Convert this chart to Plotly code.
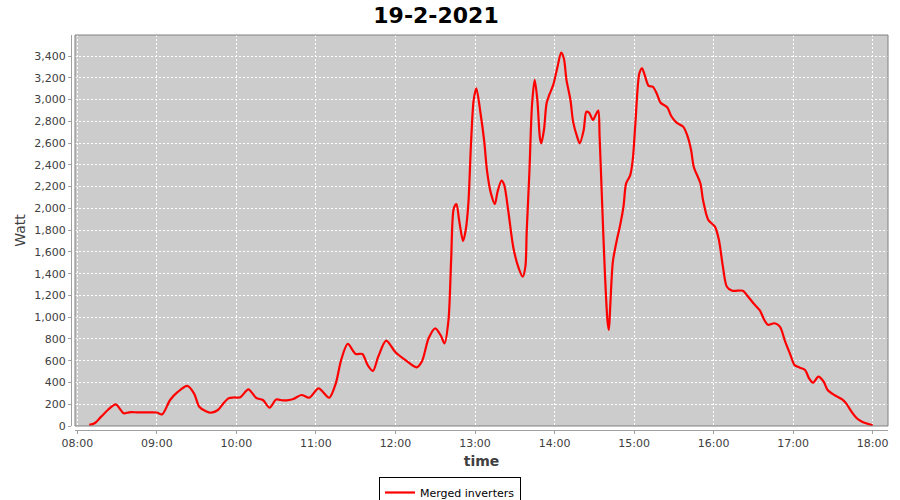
import plotly.graph_objects as go

day = "2021-02-19"
times = ["08:09","08:13","08:18","08:23","08:29","08:35","08:39","08:45","08:50","08:55",
         "09:00","09:04","09:10","09:16","09:23","09:28","09:32","09:37","09:41","09:46",
         "09:50","09:54","09:58","10:03","10:09","10:15","10:20","10:25","10:30","10:35",
         "10:38","10:43","10:49","10:55","11:02","11:10","11:15","11:19","11:24","11:30",
         "11:35","11:39","11:43","11:47","11:53","12:00","12:07","12:16","12:20","12:25",
         "12:30","12:34","12:37","12:40","12:42","12:44","12:46","12:48","12:51","12:53",
         "12:55","12:57","12:59","13:01","13:04","13:07","13:09","13:12","13:15","13:17",
         "13:20","13:22","13:25","13:29","13:33","13:36","13:38","13:39","13:41","13:43",
         "13:45","13:47","13:49","13:50","13:52","13:54","13:56","13:59","14:02","14:05",
         "14:07","14:09","14:12","14:14","14:17","14:19","14:22","14:24","14:26","14:29",
         "14:31","14:33","14:34","14:36","14:38","14:40","14:41","14:42","14:44","14:47",
         "14:49","14:52","14:54","14:57","14:59","15:01","15:04","15:06","15:08","15:11",
         "15:14","15:17","15:20","15:25","15:28","15:32","15:37","15:40","15:43","15:45",
         "15:50","15:52","15:56","16:01","16:04","16:07","16:10","16:14","16:22","16:25",
         "16:30","16:35","16:38","16:41","16:46","16:50","16:54","16:58","17:01","17:05",
         "17:09","17:12","17:15","17:19","17:23","17:26","17:31","17:37","17:40","17:44",
         "17:48","17:52","17:55","18:00"]
watts = [10,25,86,147,199,117,126,126,126,126,
         124,107,239,315,368,300,177,135,122,147,
         205,254,262,264,337,257,239,168,243,235,
         236,248,285,260,346,260,392,606,754,662,
         662,561,506,637,784,677,610,539,595,806,
         898,836,760,974,1526,2000,2040,1893,1700,1801,
         2047,2600,2996,3103,2888,2612,2352,2138,2040,2153,
         2254,2215,1985,1633,1449,1372,1464,1786,2322,2950,
         3180,3000,2644,2598,2720,2966,3042,3134,3287,3431,
         3379,3180,2996,2797,2659,2598,2720,2888,2879,2812,
         2858,2898,2659,2015,1403,959,882,1097,1510,1709,
         1817,2015,2230,2300,2445,2782,3241,3287,3226,3125,
         3118,3058,2971,2929,2849,2788,2751,2675,2537,2383,
         2230,2077,1893,1832,1709,1464,1280,1243,1243,1204,
         1128,1060,980,930,944,913,775,652,561,536,
         515,438,398,453,407,331,285,245,208,132,
         71,40,25,6]

x_vals = [f"{day} {t}" for t in times]

W, H = 900, 500
ml, mr, mt, mb = 71, 12, 35, 70
pw, ph = W - ml - mr, H - mt - mb
off = 4

fig = go.Figure()
fig.add_trace(go.Scatter(
    x=x_vals, y=watts, mode="lines", name="Merged inverters",
    line=dict(color="#ff0000", width=2.2, shape="spline", smoothing=0.8),
))

font = "DejaVu Sans"
fig.update_layout(
    width=W, height=H,
    margin=dict(l=ml, r=mr, t=mt, b=mb, pad=0, autoexpand=False),
    paper_bgcolor="white", plot_bgcolor="#cccccc",
    font=dict(family=font, size=11, color="#444444"),
    title=dict(text="<b>19-2-2021</b>", x=436 / W, xref="container", xanchor="center",
               y=1 - 15 / H, yref="container", yanchor="middle", automargin=False,
               font=dict(family=font, size=22, color="#000000")),
    showlegend=True,
    legend=dict(orientation="h", xref="container", yref="container",
                x=450 / W, xanchor="center", y=1 - 477 / H, yanchor="top",
                bordercolor="#000000", borderwidth=1, bgcolor="white",
                font=dict(family=font, size=11, color="#000000"),
                itemwidth=30),
    xaxis=dict(
        type="date", domain=[off / pw, 1], anchor="free", position=0, automargin=False,
        range=[f"{day} 07:58:15", f"{day} 18:11:33"],
        dtick=3600000, tick0=f"{day} 08:00", tickformat="%H:%M",
        showgrid=True, gridcolor="#ffffff", griddash="2px,2px", gridwidth=1,
        showline=True, linecolor="#a0a0a0", linewidth=1,
        ticks="outside", ticklen=3, tickcolor="#a0a0a0",
        tickfont=dict(family=font, size=11, color="#404040"),
        title=dict(text="<b>time</b>", standoff=6,
                   font=dict(family=font, size=14, color="#404040")),
        zeroline=False,
    ),
    yaxis=dict(
        domain=[off / ph, 1], anchor="free", position=0, automargin=False,
        range=[0, 3593], dtick=200, tickformat=",d",
        showgrid=True, gridcolor="#ffffff", griddash="2px,2px", gridwidth=1,
        showline=True, linecolor="#a0a0a0", linewidth=1,
        ticks="outside", ticklen=3, tickcolor="#a0a0a0",
        tickfont=dict(family=font, size=11, color="#404040"),
        title=dict(text="Watt", standoff=4,
                   font=dict(family=font, size=14, color="#404040")),
        zeroline=False,
    ),
)

fig.add_shape(type="rect", xref="paper", yref="paper",
              x0=off / pw, x1=1, y0=off / ph, y1=1,
              line=dict(color="#808080", width=1), fillcolor="rgba(0,0,0,0)",
              layer="above")

fig.write_html("out.html", config={"displayModeBar": False},
               post_script="document.body.style.margin='0';document.body.style.overflow='hidden';")
